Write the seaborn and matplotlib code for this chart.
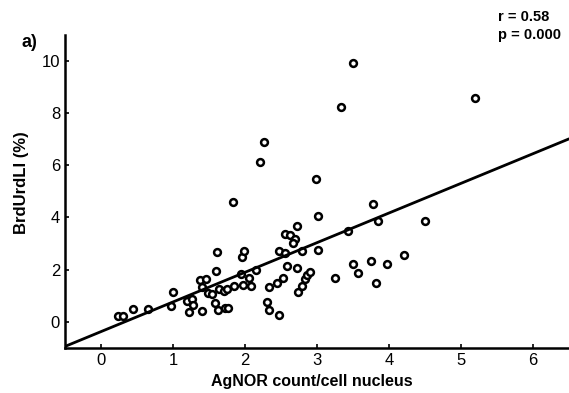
import matplotlib
matplotlib.use("Agg")
import matplotlib.pyplot as plt
import seaborn as sns
import pandas as pd

# AgNOR count per cell nucleus vs BrdUrd labelling index
agnor = [0.24, 0.31, 0.45, 0.65, 0.98, 1.00, 1.19, 1.26, 1.28, 1.22,
         1.40, 1.38, 1.46, 1.40, 1.49, 1.54, 1.59, 1.63, 1.72, 1.77,
         1.61, 1.60, 1.64, 1.71, 1.75, 1.85, 1.84, 1.96, 1.99, 1.95,
         1.98, 2.06, 2.09, 2.16, 2.21, 2.27, 2.30, 2.33, 2.34, 2.47,
         2.45, 2.53, 2.48, 2.55, 2.56, 2.63, 2.72, 2.70, 2.67, 2.58,
         2.73, 2.79, 2.74, 2.79, 2.83, 2.86, 2.90, 2.99, 3.01, 3.01,
         3.25, 3.33, 3.43, 3.50, 3.50, 3.57, 3.75, 3.78, 3.82, 3.85,
         3.97, 4.21, 4.50, 5.19]
brdu = [0.23, 0.23, 0.50, 0.50, 0.61, 1.15, 0.80, 0.88, 0.65, 0.38,
        0.42, 1.60, 1.64, 1.34, 1.11, 1.07, 0.73, 0.46, 0.53, 0.53,
        2.67, 1.95, 1.26, 1.18, 1.26, 1.37, 4.58, 2.48, 2.71, 1.83,
        1.41, 1.68, 1.37, 1.98, 6.11, 6.91, 0.76, 0.46, 1.34, 0.27,
        1.49, 1.68, 2.71, 2.63, 3.36, 3.32, 3.66, 3.17, 3.02, 2.14,
        2.06, 2.71, 1.15, 1.37, 1.64, 1.79, 1.91, 5.46, 4.05, 2.75,
        1.68, 8.24, 3.47, 9.92, 2.21, 1.87, 2.33, 4.50, 1.49, 3.85,
        2.21, 2.56, 3.85, 8.59]

x_ticks = [0, 1, 2, 3, 4, 5, 6]
y_ticks = [0, 2, 4, 6, 8, 10]

df = pd.DataFrame({"agnor": agnor, "brdu": brdu})

sns.set_style("ticks")
plt.rcParams["font.family"] = ["Liberation Sans", "DejaVu Sans"]
plt.rcParams["text.color"] = "black"
plt.rcParams["axes.labelcolor"] = "black"

fig = plt.figure(figsize=(5.69, 3.93), dpi=100)
ax = fig.add_axes([0.114, 0.115, 0.886, 0.796])
ax.set_xlim(-0.5, 6.5)
ax.set_ylim(-1, 11)

sns.regplot(data=df, x="agnor", y="brdu", ax=ax, ci=None, truncate=False,
            scatter_kws=dict(s=24, facecolor="white", edgecolor="black",
                             linewidths=1.8, alpha=1),
            line_kws=dict(color="black", lw=2.0))
ax.set_xlim(-0.5, 6.5)
ax.set_ylim(-1, 11)

ax.set_xticks(x_ticks)
ax.set_yticks(y_ticks)
ax.tick_params(direction="in", length=3, width=1.2, labelsize=12,
               colors="black", labelcolor="black")
for side in ["top", "right"]:
    ax.spines[side].set_visible(False)
for side in ["left", "bottom"]:
    ax.spines[side].set_linewidth(1.8)
    ax.spines[side].set_color("black")

ax.set_xlabel("AgNOR count/cell nucleus", fontsize=11.5, fontweight="bold", color="black")
ax.set_ylabel("BrdUrdLI (%)", fontsize=12, fontweight="bold", color="black")
ax.xaxis.set_label_coords(0.49, -0.085)
ax.yaxis.set_label_coords(-0.072, 0.527)

fig.text(0.038, 0.893, "a)", fontsize=13, fontweight="bold", va="center", color="black")
fig.text(0.875, 0.934, "r = 0.58\np = 0.000", fontsize=10.5, fontweight="bold",
         va="center", ha="left", linespacing=1.3, color="black")

fig.savefig("out.png", dpi=100)
